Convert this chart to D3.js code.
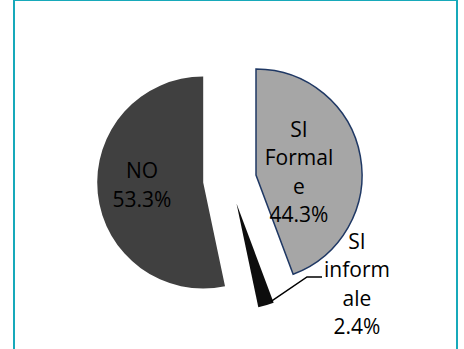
<!DOCTYPE html>
<html><head><meta charset="utf-8">
<script src="https://cdn.jsdelivr.net/npm/d3@7"></script>
<style>html,body{margin:0;padding:0;background:#fff;}svg{display:block;}</style>
</head><body>
<svg id="c" width="464" height="349"></svg>
<script>
// ---- data ----
const categories = ["SI Formale", "SI informale", "NO"];
const values = [44.3, 2.4, 53.3];
const valueLabels = ["44.3%", "2.4%", "53.3%"];
const labelLines = [["SI", "Formal", "e", "44.3%"], ["SI", "inform", "ale", "2.4%"], ["NO", "53.3%"]];

// ---- layout / style ----
const W = 464, H = 349;
const R = 106;
const apex = [[256, 175], [236.5, 203.5], [203.2, 182.5]]; // exploded slice tips
const fills = ["#a6a6a6", "#0d0d0d", "#404040"];
const strokes = ["#1f3864", "none", "none"];
const labelPos = [[299, 136.5], [357, 248.5], [142, 178]];
const lineH = [28.5, 28.6, 28.7];
const fontFamily = "'Open Sans', sans-serif";

const svg = d3.select("#c");
svg.append("rect").attr("x", 0).attr("y", 0).attr("width", W).attr("height", H).attr("fill", "#fff");
svg.append("rect").attr("x", 14).attr("y", 0).attr("width", 443).attr("height", 380)
  .attr("fill", "none").attr("stroke", "#17a9ba").attr("stroke-width", 2);

const pie = d3.pie().sort(null).value(d => d)(values);
const arc = d3.arc().innerRadius(0).outerRadius(R);

const g = svg.append("g");
g.selectAll("path").data(pie).join("path")
  .attr("transform", (d, i) => `translate(${apex[i][0]},${apex[i][1]})`)
  .attr("d", arc)
  .attr("fill", (d, i) => fills[i])
  .attr("stroke", (d, i) => strokes[i])
  .attr("stroke-width", 1.5)
  .attr("stroke-linejoin", "miter");

// leader line for small slice
const s = pie[1];
const a = s.startAngle + (s.endAngle - s.startAngle) * 0.15;
const p0 = [apex[1][0] + (R - 2) * Math.sin(a), apex[1][1] - (R - 2) * Math.cos(a)];
const lx = labelPos[1][0], ly = labelPos[1][1];
svg.append("path")
  .attr("d", d3.line()([p0, [lx - 50, ly + 28.5], [lx - 35, ly + 28.5]]))
  .attr("fill", "none").attr("stroke", "#000").attr("stroke-width", 1.5);

// labels
pie.forEach((d, i) => {
  const t = svg.append("text")
    .attr("x", labelPos[i][0]).attr("y", labelPos[i][1])
    .attr("text-anchor", "middle")
    .attr("font-family", fontFamily)
    .attr("font-size", 21)
    .attr("fill", "#000");
  labelLines[i].forEach((ln, k) => {
    t.append("tspan").attr("x", labelPos[i][0]).attr("dy", k === 0 ? 0 : lineH[i]).text(ln);
  });
});
</script>
</body></html>
